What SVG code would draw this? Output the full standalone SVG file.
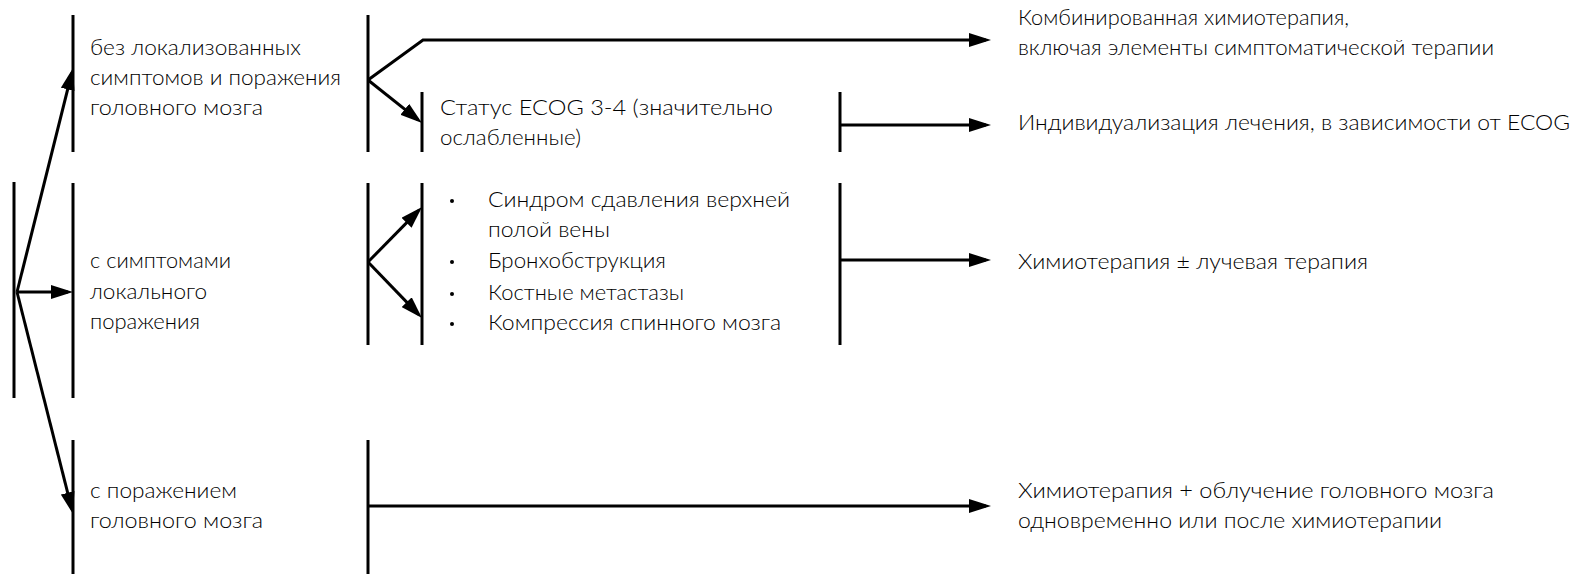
<svg xmlns="http://www.w3.org/2000/svg" width="1578" height="574" viewBox="0 0 1578 574">
<style>
.bar{stroke:#000;stroke-width:3;fill:none}
.ln{stroke:#000;stroke-width:3;fill:none}
.ar{stroke:#000;stroke-width:3;fill:none;marker-end:url(#ah)}
text{font-family:Lato,"Open Sans","Liberation Sans",sans-serif;font-weight:300;font-size:21px;fill:#000}
</style>
<defs>
<marker id="ah" markerUnits="userSpaceOnUse" markerWidth="22" markerHeight="14" refX="17" refY="7" orient="auto">
<path d="M0,0 L22,7 L0,14 z" fill="#000"/>
</marker>
</defs>
<rect width="1578" height="574" fill="#fff"/>

<g id="root">
<line class="bar" x1="14" y1="182" x2="14" y2="398"/>
</g>

<g id="n_no_symptoms">
<line class="bar" x1="73" y1="15" x2="73" y2="152"/>
<text x="90" y="55" textLength="211" lengthAdjust="spacingAndGlyphs">без локализованных</text>
<text x="90" y="85" textLength="251" lengthAdjust="spacingAndGlyphs">симптомов и поражения</text>
<text x="90" y="115" textLength="173" lengthAdjust="spacingAndGlyphs">головного мозга</text>
</g>

<g id="n_local">
<line class="bar" x1="73" y1="183" x2="73" y2="398"/>
<text x="90" y="268" textLength="141" lengthAdjust="spacingAndGlyphs">с симптомами</text>
<text x="90" y="299" textLength="117" lengthAdjust="spacingAndGlyphs">локального</text>
<text x="90" y="329" textLength="110" lengthAdjust="spacingAndGlyphs">поражения</text>
</g>

<g id="n_brain">
<line class="bar" x1="73" y1="440" x2="73" y2="574"/>
<text x="90" y="498" textLength="147" lengthAdjust="spacingAndGlyphs">с поражением</text>
<text x="90" y="528" textLength="173" lengthAdjust="spacingAndGlyphs">головного мозга</text>
</g>

<g id="j_top">
<line class="bar" x1="368" y1="15" x2="368" y2="152"/>
</g>
<g id="j_mid">
<line class="bar" x1="368" y1="183" x2="368" y2="345"/>
</g>
<g id="j_bot">
<line class="bar" x1="368" y1="440" x2="368" y2="574"/>
</g>

<g id="n_ecog">
<line class="bar" x1="422" y1="92" x2="422" y2="152"/>
<text x="440" y="115" textLength="333" lengthAdjust="spacingAndGlyphs">Статус ECOG 3-4 (значительно</text>
<text x="440" y="145" textLength="141" lengthAdjust="spacingAndGlyphs">ослабленные)</text>
<line class="bar" x1="840" y1="92" x2="840" y2="152"/>
</g>

<g id="n_list">
<line class="bar" x1="422" y1="183" x2="422" y2="345"/>
<circle cx="452" cy="201" r="2"/>
<circle cx="452" cy="262" r="2"/>
<circle cx="452" cy="294" r="2"/>
<circle cx="452" cy="324" r="2"/>
<text x="488" y="207" textLength="302" lengthAdjust="spacingAndGlyphs">Синдром сдавления верхней</text>
<text x="488" y="237" textLength="122" lengthAdjust="spacingAndGlyphs">полой вены</text>
<text x="488" y="268" textLength="178" lengthAdjust="spacingAndGlyphs">Бронхобструкция</text>
<text x="488" y="300" textLength="196" lengthAdjust="spacingAndGlyphs">Костные метастазы</text>
<text x="488" y="330" textLength="293" lengthAdjust="spacingAndGlyphs">Компрессия спинного мозга</text>
<line class="bar" x1="840" y1="183" x2="840" y2="345"/>
</g>

<g id="o_combo">
<text x="1018" y="25" textLength="331" lengthAdjust="spacingAndGlyphs">Комбинированная химиотерапия,</text>
<text x="1018" y="55" textLength="476" lengthAdjust="spacingAndGlyphs">включая элементы симптоматической терапии</text>
</g>
<g id="o_indiv">
<text x="1018" y="130" textLength="552" lengthAdjust="spacingAndGlyphs">Индивидуализация лечения, в зависимости от ECOG</text>
</g>
<g id="o_chemo_rt">
<text x="1018" y="269" textLength="350" lengthAdjust="spacingAndGlyphs">Химиотерапия ± лучевая терапия</text>
</g>
<g id="o_chemo_brain">
<text x="1018" y="498" textLength="476" lengthAdjust="spacingAndGlyphs">Химиотерапия + облучение головного мозга</text>
<text x="1018" y="528" textLength="424" lengthAdjust="spacingAndGlyphs">одновременно или после химиотерапии</text>
</g>

<g id="connectors">
<line class="ar" x1="17" y1="292" x2="71.8" y2="72.9"/>
<line class="ar" x1="17" y1="292" x2="68" y2="292"/>
<line class="ar" x1="17" y1="292" x2="71.8" y2="509.2"/>
<polyline class="ar" points="368,80 423,40 986,40"/>
<line class="ar" x1="368" y1="80" x2="418.1" y2="119.9"/>
<line class="ar" x1="368" y1="262" x2="418.5" y2="210.6"/>
<line class="ar" x1="368" y1="262" x2="418.5" y2="314.4"/>
<line class="ar" x1="840" y1="125" x2="986" y2="125"/>
<line class="ar" x1="840" y1="260" x2="986" y2="260"/>
<line class="ar" x1="368" y1="506" x2="986" y2="506"/>
</g>
</svg>
